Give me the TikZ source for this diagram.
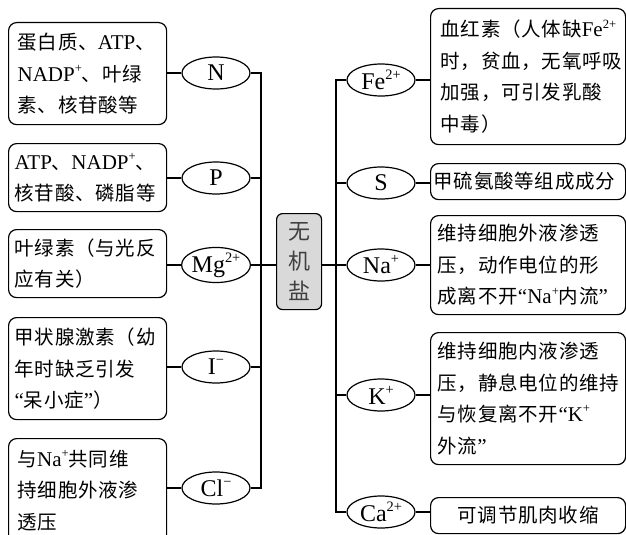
\documentclass[tikz,border=0pt]{standalone}
\usepackage{fontspec}
\setmainfont[LetterSpace=4]{Noto Sans CJK SC}
\newfontfamily\latfont{Liberation Serif}
\usetikzlibrary{shapes.geometric}
\newcommand\Lt[1]{{\latfont\fontsize{21pt}{31.5pt}\selectfont #1}}
\newcommand\Su[1]{\raisebox{0.42em}{\scalebox{0.6}{#1}}}
\tikzset{
  txtbox/.style={draw, line width=1.2pt, rounded corners=8pt, anchor=north west,
    align=left, inner ysep=0pt, font=\fontsize{19.5pt}{31.5pt}\selectfont},
  ion/.style={draw, ellipse, line width=1.2pt, inner sep=0pt, minimum width=68pt,
    minimum height=32pt, font=\latfont\fontsize{24pt}{24pt}\selectfont},
  link/.style={line width=1.2pt},
}
\begin{document}
\begin{tikzpicture}[x=1pt,y=-1pt]
\path[use as bounding box, clip] (0,0) rectangle (626,535);
% centre
\node[draw, line width=1.2pt, rounded corners=6pt, fill=black!15, anchor=north west,
  minimum width=45pt, minimum height=96pt, inner sep=0pt, align=center,
  font=\fontsize{22pt}{30pt}\selectfont, text=black!75] (salt) at (276,213) {无\\机\\盐};
% left ions
\node[ion] (eN)  at (216,73)  {N};
\node[ion] (eP)  at (216,178) {P};
\node[ion] (eMg) at (216,265) {Mg\Su{2+}};
\node[ion] (eI)  at (216,367) {I\Su{−}};
\node[ion] (eCl) at (216,488) {Cl\Su{−}};
% left boxes
\node[txtbox, minimum width=158pt, minimum height=102pt, text width=140pt, inner xsep=9pt] (b1) at (8,22)
  {\mbox{蛋白质、\Lt{ATP}、}\\\mbox{\Lt{NADP\Su{+}}、叶绿}\\\mbox{素、核苷酸等}};
\node[txtbox, minimum width=158pt, minimum height=68pt, text width=146pt, inner xsep=6pt] (b2) at (8,143)
  {\mbox{\Lt{ATP}、\Lt{NADP\Su{+}}、}\\\mbox{核苷酸、磷脂等}};
\node[txtbox, minimum width=158pt, minimum height=68pt, text width=146pt, inner xsep=6pt] (b3) at (8,229)
  {\mbox{叶绿素（与光反}\\\mbox{应有关）}};
\node[txtbox, minimum width=158pt, minimum height=102pt, text width=146pt, inner xsep=6pt] (b4) at (8,317)
  {\mbox{甲状腺激素（幼}\\\mbox{年时缺乏引发}\\\mbox{\Lt{“}呆小症\Lt{”}）}};
\node[txtbox, minimum width=158pt, minimum height=104pt, text width=140pt, inner xsep=9pt] (b5) at (8,438)
  {\mbox{与\Lt{Na\Su{+}}共同维}\\\mbox{持细胞外液渗}\\\mbox{透压}};
% right ions
\node[ion] (eFe) at (381,80)  {Fe\Su{2+}};
\node[ion] (eS)  at (381,183) {S};
\node[ion] (eNa) at (381,265) {Na\Su{+}};
\node[ion] (eK)  at (381,395) {K\Su{+}};
\node[ion] (eCa) at (381,512) {Ca\Su{2+}};
% right boxes
\node[txtbox, minimum width=195pt, minimum height=136pt, text width=175pt, inner xsep=10pt] (r1) at (430,8)
  {\mbox{血红素（人体缺\Lt{Fe\Su{2+}}}\\\mbox{时，贫血，无氧呼吸}\\\mbox{加强，可引发乳酸}\\\mbox{中毒）}};
\node[txtbox, minimum width=195pt, minimum height=36pt, text width=189pt, inner xsep=3pt] (r2) at (430,163)
  {\mbox{甲硫氨酸等组成成分}};
\node[txtbox, minimum width=195pt, minimum height=99pt, text width=181pt, inner xsep=7pt] (r3) at (430,215)
  {\mbox{维持细胞外液渗透}\\\mbox{压，动作电位的形}\\\mbox{成离不开\Lt{“Na\Su{+}}内流\Lt{”}}};
\node[txtbox, minimum width=195pt, minimum height=132pt, text width=181pt, inner xsep=7pt] (r4) at (430,332)
  {\mbox{维持细胞内液渗透}\\\mbox{压，静息电位的维持}\\\mbox{与恢复离不开\Lt{“K\Su{+}}}\\\mbox{外流\Lt{”}}};
\node[txtbox, minimum width=195pt, minimum height=36pt, text width=181pt, inner xsep=7pt, align=center] (r5) at (430,497)
  {可调节肌肉收缩};
% trunks
\coordinate (lx) at (261,0);
\coordinate (rx) at (336,0);
\draw[link] (eN.east) -- (eN.east -| lx) -- (eCl.east -| lx) -- (eCl.east);
\draw[link] (eP.east) -- (eP.east -| lx);
\draw[link] (eI.east) -- (eI.east -| lx);
\draw[link] (eMg.east) -- (eMg.east -| salt.west);
\draw[link] (eFe.west) -- (eFe.west -| rx) -- (eCa.west -| rx) -- (eCa.west);
\draw[link] (eS.west) -- (eS.west -| rx);
\draw[link] (eK.west) -- (eK.west -| rx);
\draw[link] (eNa.west -| salt.east) -- (eNa.west);
% box links
\draw[link] (eN.west -| b1.east) -- (eN.west);
\draw[link] (eP.west -| b2.east) -- (eP.west);
\draw[link] (eMg.west -| b3.east) -- (eMg.west);
\draw[link] (eI.west -| b4.east) -- (eI.west);
\draw[link] (eCl.west -| b5.east) -- (eCl.west);
\draw[link] (eFe.east) -- (eFe.east -| r1.west);
\draw[link] (eS.east) -- (eS.east -| r2.west);
\draw[link] (eNa.east) -- (eNa.east -| r3.west);
\draw[link] (eK.east) -- (eK.east -| r4.west);
\draw[link] (eCa.east) -- (eCa.east -| r5.west);
\end{tikzpicture}
\end{document}
